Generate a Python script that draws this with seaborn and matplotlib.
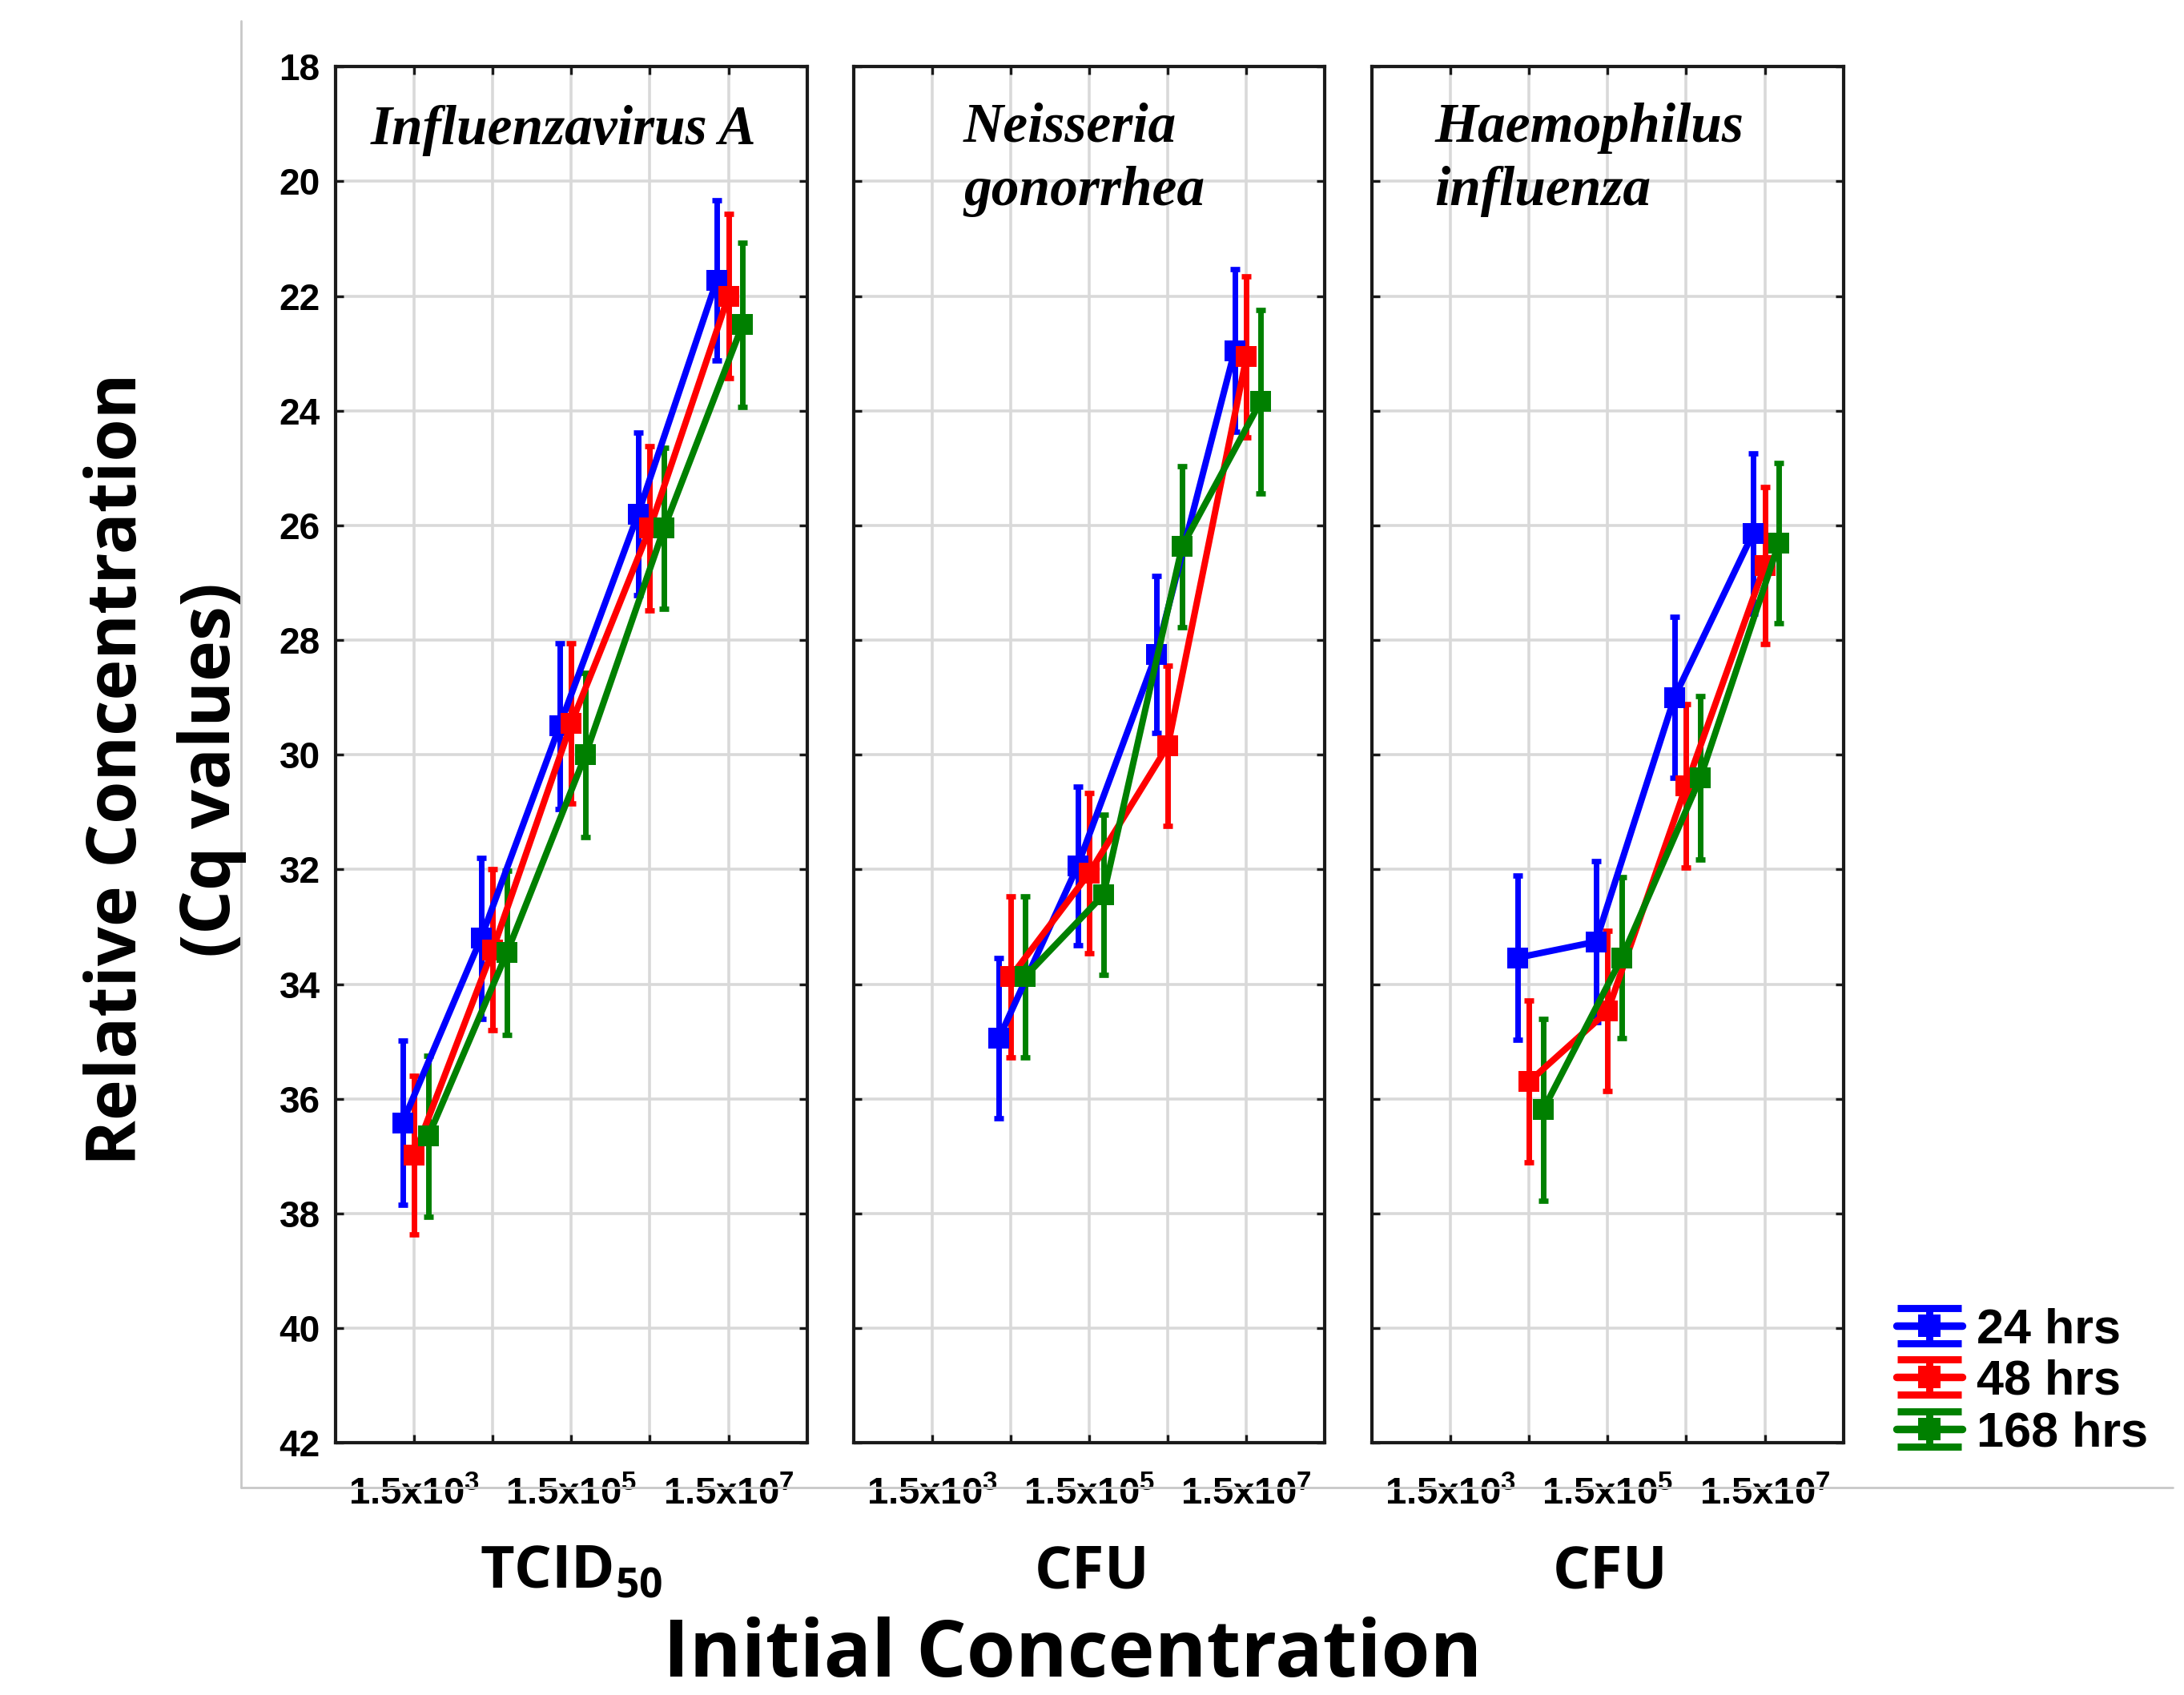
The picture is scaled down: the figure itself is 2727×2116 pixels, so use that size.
import numpy as np
import pandas as pd
import matplotlib
matplotlib.use('Agg')
import matplotlib.pyplot as plt
import seaborn as sns
from matplotlib.lines import Line2D
from matplotlib.path import Path
from matplotlib.legend_handler import HandlerTuple

# ==================== 数据 ====================
TIMES = ['24 hrs', '48 hrs', '168 hrs']
TICK_POS = [1, 2, 3, 4, 5]
TICK_LABELS = ['1.5x10$^{3}$', '', '1.5x10$^{5}$', '', '1.5x10$^{7}$']

# Influenzavirus A (1.5x10^3 .. 1.5x10^7)
FLU_X = [1, 2, 3, 4, 5]
FLU_24 = [36.42, 33.20, 29.50, 25.80, 21.73]
FLU_48 = [36.98, 33.40, 29.45, 26.05, 22.00]
FLU_168 = [36.65, 33.45, 30.00, 26.05, 22.50]
FLU_24_ERR = [1.43, 1.40, 1.45, 1.42, 1.40]
FLU_48_ERR = [1.38, 1.40, 1.40, 1.43, 1.43]
FLU_168_ERR = [1.40, 1.43, 1.43, 1.40, 1.43]

# Neisseria gonorrhea (1.5x10^4 .. 1.5x10^7)
NG_X = [2, 3, 4, 5]
NG_24 = [34.94, 31.94, 28.25, 22.95]
NG_48 = [33.87, 32.06, 29.84, 23.06]
NG_168 = [33.87, 32.44, 26.37, 23.84]
NG_24_ERR = [1.40, 1.38, 1.37, 1.42]
NG_48_ERR = [1.40, 1.40, 1.40, 1.40]
NG_168_ERR = [1.40, 1.40, 1.40, 1.60]

# Haemophilus influenza (1.5x10^4 .. 1.5x10^7)
HI_X = [2, 3, 4, 5]
HI_24 = [33.54, 33.26, 29.00, 26.14]
HI_48 = [35.70, 34.47, 30.54, 26.70]
HI_168 = [36.19, 33.54, 30.40, 26.31]
HI_24_ERR = [1.43, 1.40, 1.40, 1.40]
HI_48_ERR = [1.41, 1.40, 1.43, 1.37]
HI_168_ERR = [1.58, 1.40, 1.43, 1.40]

COLORS = {'24 hrs': '#0000ff', '48 hrs': '#ff0000', '168 hrs': '#008000'}
DODGE = {'24 hrs': -0.15, '48 hrs': 0.0, '168 hrs': 0.18}


def make_df(x, s24, s48, s168, e24, e48, e168):
    rows = []
    for t, vals, errs in zip(TIMES, [s24, s48, s168], [e24, e48, e168]):
        for xi, v, e in zip(x, vals, errs):
            rows.append({'x': xi + DODGE[t], 'cq': v, 'err': e, 'time': t})
    return pd.DataFrame(rows)


panels = [
    ('Influenzavirus A', make_df(FLU_X, FLU_24, FLU_48, FLU_168, FLU_24_ERR, FLU_48_ERR, FLU_168_ERR),
     r'$\mathsf{TCID_{50}}$', (0.074, 0.972)),
    ('Neisseria\ngonorrhea', make_df(NG_X, NG_24, NG_48, NG_168, NG_24_ERR, NG_48_ERR, NG_168_ERR),
     r'$\mathsf{CFU}$', (0.233, 0.974)),
    ('Haemophilus\ninfluenza', make_df(HI_X, HI_24, HI_48, HI_168, HI_24_ERR, HI_48_ERR, HI_168_ERR),
     r'$\mathsf{CFU}$', (0.133, 0.974)),
]

# ==================== 样式 ====================
sns.set_theme(style='whitegrid')
plt.rcParams['font.family'] = ['Liberation Sans', 'DejaVu Sans']
plt.rcParams['text.color'] = 'black'
plt.rcParams['xtick.labelcolor'] = 'black'
plt.rcParams['ytick.labelcolor'] = 'black'
plt.rcParams['mathtext.fontset'] = 'custom'
plt.rcParams['mathtext.rm'] = 'Liberation Sans:bold'
plt.rcParams['mathtext.bf'] = 'Liberation Sans:bold'
plt.rcParams['mathtext.it'] = 'Liberation Sans:bold'
plt.rcParams['mathtext.sf'] = 'Open Sans:bold'

fig = plt.figure(figsize=(13.635, 10.58), dpi=200)
fig.patch.set_facecolor('white')

lefts = [0.1537, 0.3909, 0.6282]
width, bottom, height = 0.2158, 0.1487, 0.8120

# 浅灰色外框
fig.add_artist(Line2D([0.1103, 0.1103], [0.9877, 0.1224], transform=fig.transFigure,
                      color='#c8c8c8', lw=1.0))
fig.add_artist(Line2D([0.1103, 0.995], [0.1224, 0.1224], transform=fig.transFigure,
                      color='#c8c8c8', lw=1.0))

for i, (title, df, xlab, tpos) in enumerate(panels):
    ax = fig.add_axes([lefts[i], bottom, width, height])
    ax.set_facecolor('white')

    sns.lineplot(data=df, x='x', y='cq', hue='time', hue_order=TIMES, palette=COLORS,
                 marker='s', markersize=9.5, markeredgewidth=0, linewidth=2.9,
                 sort=False, estimator=None, legend=False, ax=ax, zorder=3)

    for t in TIMES:
        sub = df[df['time'] == t]
        ax.errorbar(sub['x'], sub['cq'], yerr=sub['err'], fmt='none',
                    ecolor=COLORS[t], elinewidth=2.5, capsize=2.0, capthick=2.4,
                    zorder=2)

    ax.set_xlim(0, 6)
    ax.set_ylim(42, 18)
    ax.set_yticks(np.arange(18, 43, 2))
    ax.set_xticks(TICK_POS)
    ax.set_xticklabels(TICK_LABELS)
    ax.grid(True, color='#d9d9d9', linewidth=1.3)
    ax.set_axisbelow(True)
    for sp in ax.spines.values():
        sp.set_color('#1a1a1a')
        sp.set_linewidth(1.5)
    ax.tick_params(axis='both', direction='in', length=3.5, width=1.2, color='#1a1a1a',
                   labelcolor='black', top=True, bottom=True, left=True, right=True)
    ax.tick_params(axis='x', labelsize=17, pad=15)
    ax.tick_params(axis='y', labelsize=16.5, pad=7)
    for lab in ax.get_xticklabels() + ax.get_yticklabels():
        lab.set_fontweight('bold')
    if i > 0:
        ax.tick_params(axis='y', labelleft=False)
    ax.set_xlabel('')
    ax.set_ylabel('')

    ax.text(tpos[0], tpos[1], title, transform=ax.transAxes, ha='left', va='top',
            family='Liberation Serif', style='italic', fontweight='bold', fontsize=25,
            linespacing=1.3, color='black')

    fig.text(lefts[i] + width / 2, 0.0633, xlab, ha='center', va='baseline', fontsize=26.5,
             color='black')

fig.text(0.0755, 0.546, 'Relative Concentration\n(Cq values)', rotation=90,
         ha='center', va='center', multialignment='center', color='black',
         family='Open Sans', fontweight='bold', fontsize=31, linespacing=1.45)
fig.text(0.491, 0.011, 'Initial Concentration', ha='center', va='baseline', color='black',
         family='Open Sans', fontweight='bold', fontsize=35.5)

# 图例：误差棒样式（上下横帽 + 竖线）与带方块的横线叠加
ibeam = Path([(-1, 0.55), (1, 0.55), (0, 0.55), (0, -0.55), (-1, -0.55), (1, -0.55)],
             [Path.MOVETO, Path.LINETO, Path.MOVETO, Path.LINETO, Path.MOVETO, Path.LINETO])
legend_handles = []
for t in TIMES:
    main = Line2D([], [], color=COLORS[t], lw=3.4, marker='s', markersize=10,
                  markeredgewidth=0)
    caps = Line2D([], [], color=COLORS[t], lw=0, marker=ibeam, markersize=29,
                  markerfacecolor='none', markeredgecolor=COLORS[t], markeredgewidth=3.2)
    legend_handles.append((main, caps))

leg = fig.legend(legend_handles, TIMES, loc='upper left',
                 bbox_to_anchor=(0.857, 0.243), frameon=False,
                 prop={'weight': 'bold', 'size': 22}, handlelength=1.35,
                 handletextpad=0.3, labelspacing=0.12, borderpad=0, numpoints=1,
                 handler_map={tuple: HandlerTuple(ndivide=1)})
for txt in leg.get_texts():
    txt.set_color('black')

fig.savefig('out.png', dpi=200, facecolor='white')
